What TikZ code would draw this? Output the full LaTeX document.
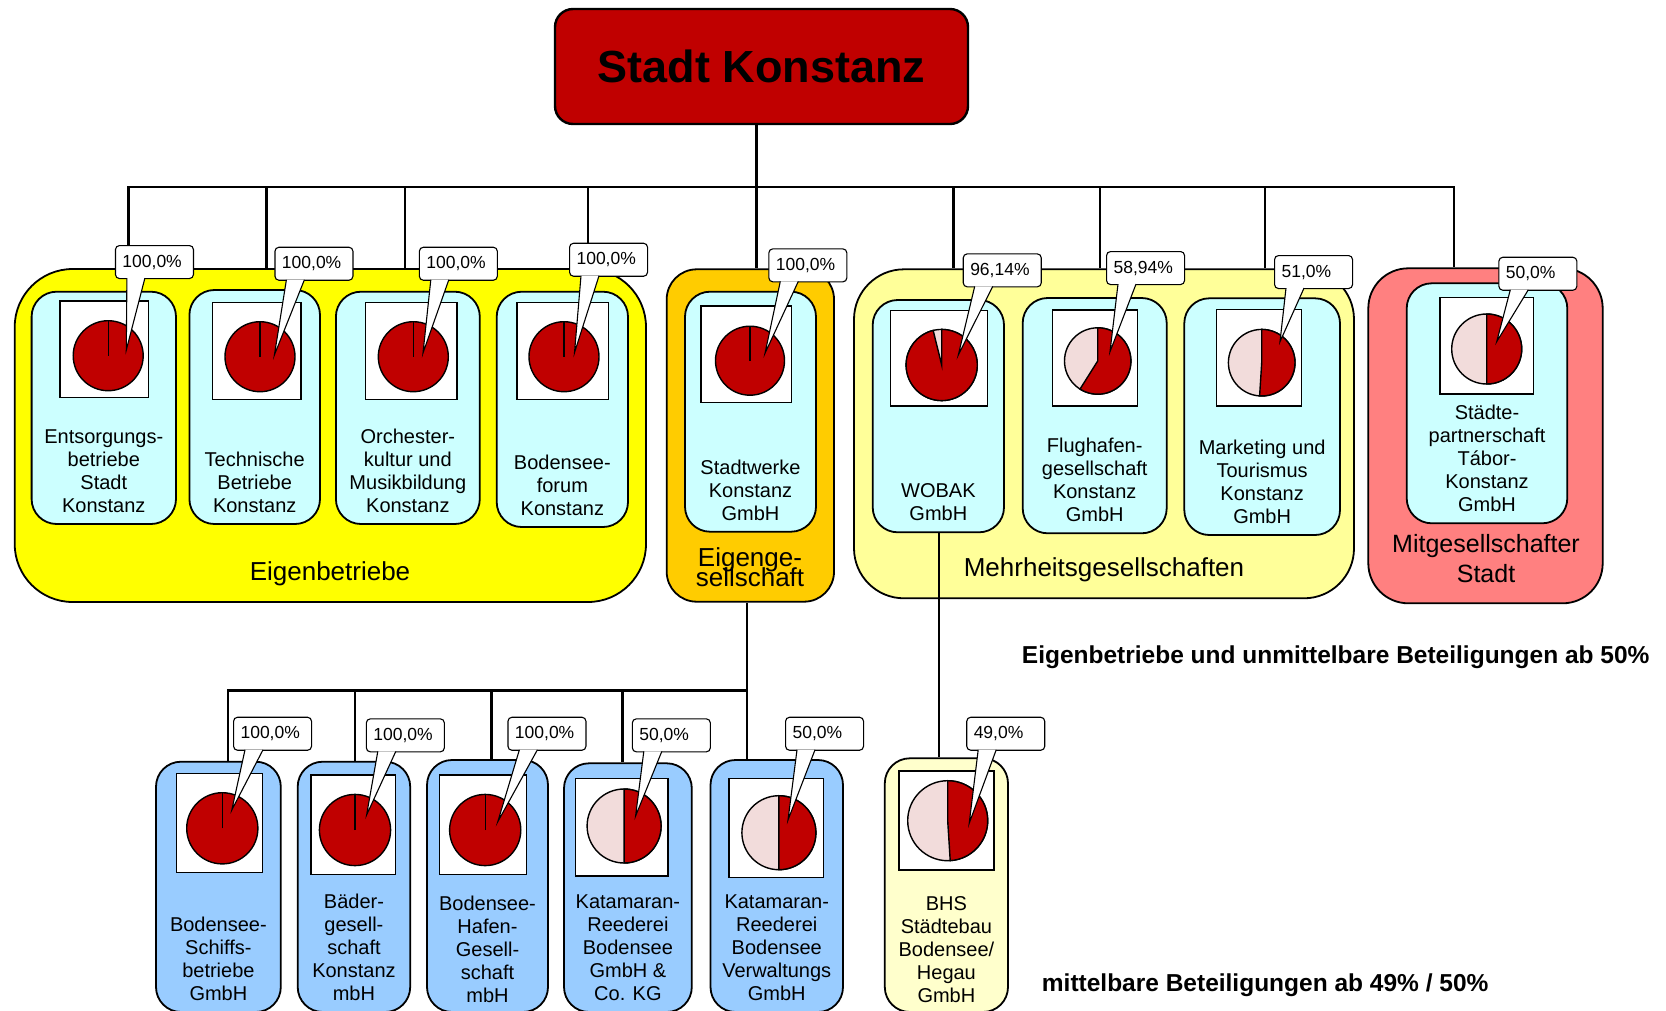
\documentclass[tikz,border=0pt]{standalone}
\usepackage{fontspec}
\setmainfont{Liberation Sans}
\usetikzlibrary{positioning}
\definecolor{piered}{RGB}{192,0,0}
\definecolor{pielight}{RGB}{242,220,219}
\definecolor{ebyellow}{RGB}{255,255,0}
\definecolor{egorange}{RGB}{255,204,0}
\definecolor{mhyellow}{RGB}{255,255,153}
\definecolor{mgred}{RGB}{255,128,128}
\definecolor{cardcyan}{RGB}{204,255,255}
\definecolor{cardblue}{RGB}{153,204,255}
\definecolor{bhsyellow}{RGB}{255,255,204}
\tikzset{
  link/.style={line width=2.6pt},
  holding/.style={draw, line width=1.8pt, inner sep=0pt},
  card/.style={draw, line width=1.8pt, rounded corners=25pt, inner sep=0pt},
  picframe/.style={draw, fill=white, line width=1.4pt},
  pieline/.style={draw, line width=1.4pt},
  share/.style={draw, fill=white, line width=1.1pt, rounded corners=4pt, anchor=north west,
    text width=64pt, align=left, inner xsep=7pt, inner ysep=0pt, minimum height=33pt,
    font=\fontsize{17.5}{20}\selectfont},
  pointer/.style={line width=1.1pt, line join=miter},
  firm/.style={align=center, inner sep=0pt, font=\fontsize{20}{23}\selectfont},
  grouplabel/.style={align=center, inner sep=0pt, font=\fontsize{26}{20}\selectfont},
  remark/.style={anchor=base west, inner sep=0pt, font=\fontsize{24.5}{28}\selectfont\bfseries},
}
\newcommand\sharepointer[2]{%
  \fill[white] ([shift={(12,-1)}]#1.south west) -- #2 -- ([shift={(30,-1)}]#1.south west) -- cycle;
  \draw[pointer] ([shift={(12,-1)}]#1.south west) -- #2 -- ([shift={(30,-1)}]#1.south west);}
\begin{document}
\begin{tikzpicture}[x=1pt,y=-1pt]
\useasboundingbox (0,0) rectangle (1666,1010);
\clip (0,0) rectangle (1666,1010);

\node[draw, fill=piered, rounded corners=18pt, line width=2.4pt, minimum width=413pt, minimum height=115pt,
  font=\fontsize{45}{54}\selectfont\bfseries] (sk) at (761.5,66.5) {Stadt Konstanz};

\node[holding, fill=ebyellow, rounded corners=58pt, minimum width=631.3pt, minimum height=333pt] (eb) at (330.35,435.5) {};
\node[holding, fill=egorange, rounded corners=30pt, minimum width=167.3pt, minimum height=332.4pt] (eg) at (750.35,435.5) {};
\node[holding, fill=mhyellow, rounded corners=50pt, minimum width=500pt, minimum height=329pt] (mh) at (1104,433.8) {};
\node[holding, fill=mgred, rounded corners=40pt, minimum width=234.4pt, minimum height=335pt] (mg) at (1485.5,435.8) {};

\coordinate (j0) at (756.7,187);
\coordinate (j1) at (128.4,187);
\coordinate (j2) at (266.4,187);
\coordinate (j3) at (404.9,187);
\coordinate (j4) at (588,187);
\coordinate (j5) at (953.3,187);
\coordinate (j6) at (1100,187);
\coordinate (j7) at (1265,187);
\coordinate (j8) at (1454,187);
\draw[link] (j1 |- eb.north) -- (j1) -- (j8) -- (j8 |- mg.north);
\draw[link] (sk.south -| j0) -- (j0 |- eg.north);
\draw[link] (j2) -- (j2 |- eb.north);
\draw[link] (j3) -- (j3 |- eb.north);
\draw[link] (j4) -- (j4 |- eb.north);
\draw[link] (j5) -- (j5 |- mh.north);
\draw[link] (j6) -- (j6 |- mh.north);
\draw[link] (j7) -- (j7 |- mh.north);

\node[grouplabel, anchor=base] (ebl) at (330,580) {Eigenbetriebe};
\node[grouplabel, anchor=south] (egl) at (750,586.7) {Eigenge-\\[-5.5pt]sellschaft};
\node[grouplabel, anchor=base] (mhl) at (1104,576) {Mehrheitsgesellschaften};
\node[grouplabel, font=\fontsize{25}{30}\selectfont, anchor=south] (mgl) at (1486,583.3) {Mitgesellschafter\\Stadt};

% Eigenbetriebe
\node[card, fill=cardcyan, minimum width=144.4pt, minimum height=232.3pt] (e1) at (103.8,407.85) {};
\draw[picframe] (59.8,301) rectangle (148.2,397.7);
\coordinate (q1) at (108.2,355.7);
\filldraw[pieline, fill=piered] (q1) circle[radius=35];
\draw[pieline] (q1) -- ++(0,-35);
\node[share] (t1) at (114.9,245) {100,0\%};
\sharepointer{t1}{(126.3,350)}
\node[firm, above=12pt of e1.south] (n1) {Entsorgungs-\\betriebe\\Stadt\\Konstanz};

\node[card, fill=cardcyan, minimum width=130.6pt, minimum height=234pt] (e2) at (254.7,407) {};
\draw[picframe] (212.6,302.7) rectangle (301,399.3);
\coordinate (q2) at (260,356.7);
\filldraw[pieline, fill=piered] (q2) circle[radius=35];
\draw[pieline] (q2) -- ++(0,-35);
\node[share] (t2) at (274.4,246.7) {100,0\%};
\sharepointer{t2}{(274.4,355)}
\node[firm, above=12pt of e2.south] (n2) {Technische\\Betriebe\\Konstanz};

\node[card, fill=cardcyan, minimum width=143.9pt, minimum height=232.3pt] (e3) at (407.85,407.85) {};
\draw[picframe] (365.3,302.7) rectangle (457,399.3);
\coordinate (q3) at (413.3,356.7);
\filldraw[pieline, fill=piered] (q3) circle[radius=35];
\draw[pieline] (q3) -- ++(0,-35);
\node[share] (t3) at (418.8,246.7) {100,0\%};
\sharepointer{t3}{(423,353)}
\node[firm, above=12pt of e3.south] (n3) {Orchester-\\kultur und\\Musikbildung\\Konstanz};

\node[card, fill=cardcyan, minimum width=131.3pt, minimum height=235.3pt] (e4) at (562.35,409.35) {};
\draw[picframe] (516.9,302.7) rectangle (608.6,399.3);
\coordinate (q4) at (564,356.7);
\filldraw[pieline, fill=piered] (q4) circle[radius=35];
\draw[pieline] (q4) -- ++(0,-35);
\node[share] (t4) at (569,242.7) {100,0\%};
\sharepointer{t4}{(574.5,352.7)}
\node[firm, above=12pt of e4.south] (n4) {Bodensee-\\forum\\Konstanz};

% Eigengesellschaft
\node[card, fill=cardcyan, minimum width=131pt, minimum height=240pt] (sw) at (750.5,411.7) {};
\draw[picframe] (701,306) rectangle (791.7,402.7);
\coordinate (qsw) at (750,360.7);
\filldraw[pieline, fill=piered] (qsw) circle[radius=34.5];
\draw[pieline] (qsw) -- ++(0,-34.5);
\node[share] (tsw) at (768.3,248.3) {100,0\%};
\sharepointer{tsw}{(765,353.3)}
\node[firm, above=12pt of sw.south] (nsw) {Stadtwerke\\Konstanz\\GmbH};

% Mehrheitsgesellschaften
\node[card, fill=cardcyan, minimum width=131.3pt, minimum height=232.3pt] (wo) at (938.35,416.15) {};
\draw[picframe] (890.7,310.7) rectangle (987.7,406);
\coordinate (qwo) at (941.7,365);
\filldraw[pieline, fill=pielight] (qwo) circle[radius=35.6];
\filldraw[pieline, fill=piered] (qwo) -- ++(0,-35.6) arc[start angle=-90, end angle=256.1, radius=35.6] -- cycle;
\node[share] (two) at (962.7,253.3) {96,14\%};
\sharepointer{two}{(958.3,355)}
\node[firm, above=12pt of wo.south] (nwo) {WOBAK\\GmbH};

\node[card, fill=cardcyan, minimum width=144pt, minimum height=235.3pt] (fl) at (1094.7,415.65) {};
\draw[picframe] (1052.7,310) rectangle (1137.3,406);
\coordinate (qfl) at (1097.7,361);
\filldraw[pieline, fill=pielight] (qfl) circle[radius=33.2];
\filldraw[pieline, fill=piered] (qfl) -- ++(0,-33.2) arc[start angle=-90, end angle=122.2, radius=33.2] -- cycle;
\node[share] (tfl) at (1106,251) {58,94\%};
\sharepointer{tfl}{(1110,351.7)}
\node[firm, above=12pt of fl.south] (nfl) {Flughafen-\\gesellschaft\\Konstanz\\GmbH};

\node[card, fill=cardcyan, minimum width=155.7pt, minimum height=236.7pt] (mt) at (1262.15,416.65) {};
\draw[picframe] (1216.7,309.3) rectangle (1301.7,406);
\coordinate (qmt) at (1261.7,362.7);
\filldraw[pieline, fill=pielight] (qmt) circle[radius=33.3];
\filldraw[pieline, fill=piered] (qmt) -- ++(0,-33.3) arc[start angle=-90, end angle=93.6, radius=33.3] -- cycle;
\node[share] (tmt) at (1274,255) {51,0\%};
\sharepointer{tmt}{(1280,341.7)}
\node[firm, above=12pt of mt.south] (nmt) {Marketing und\\Tourismus\\Konstanz\\GmbH};

% Mitgesellschafter
\node[card, fill=cardcyan, minimum width=160.6pt, minimum height=240pt] (st) at (1487,403.3) {};
\draw[picframe] (1440,297.7) rectangle (1533.3,394);
\coordinate (qst) at (1486.7,349);
\filldraw[pieline, fill=pielight] (qst) circle[radius=35];
\filldraw[pieline, fill=piered] (qst) -- ++(0,-35) arc[start angle=-90, end angle=90, radius=35] -- cycle;
\node[share] (tst) at (1498.3,256.7) {50,0\%};
\sharepointer{tst}{(1496.7,341.7)}
\node[firm, above=12pt of st.south] (nst) {Städte-\\partnerschaft\\Tábor-\\Konstanz\\GmbH};

% mittelbare Beteiligungen
\node[card, fill=cardblue, minimum width=124.8pt, minimum height=250.3pt] (b1) at (218.4,886.85) {};
\draw[picframe] (176.4,773.3) rectangle (262.5,872.7);
\coordinate (qb1) at (222.3,828.3);
\filldraw[pieline, fill=piered] (qb1) circle[radius=35.6];
\draw[pieline] (qb1) -- ++(0,-35.6);
\node[share] (tb1) at (233,716.7) {100,0\%};
\sharepointer{tb1}{(231.8,810)}
\node[firm, above=12pt of b1.south] (nb1) {Bodensee-\\Schiffs-\\betriebe\\GmbH};

\node[card, fill=cardblue, minimum width=112.5pt, minimum height=250.3pt] (b2) at (353.95,886.85) {};
\draw[picframe] (311,775) rectangle (395.6,874.3);
\coordinate (qb2) at (355,830);
\filldraw[pieline, fill=piered] (qb2) circle[radius=35.6];
\draw[pieline] (qb2) -- ++(0,-35.6);
\node[share] (tb2) at (365.8,718.3) {100,0\%};
\sharepointer{tb2}{(366.6,815)}
\node[firm, above=12pt of b2.south] (nb2) {Bäder-\\gesell-\\schaft\\Konstanz\\mbH};

\node[card, fill=cardblue, minimum width=121pt, minimum height=252pt] (b3) at (487.5,886) {};
\draw[picframe] (439.3,775) rectangle (526.5,874.3);
\coordinate (qb3) at (485.2,830);
\filldraw[pieline, fill=piered] (qb3) circle[radius=35.6];
\draw[pieline] (qb3) -- ++(0,-35.6);
\node[share] (tb3) at (507.4,716.7) {100,0\%};
\sharepointer{tb3}{(497.8,821.7)}
\node[firm, above=10pt of b3.south] (nb3) {Bodensee-\\Hafen-\\Gesell-\\schaft\\mbH};

\node[card, fill=cardblue, minimum width=127.8pt, minimum height=248.7pt] (b4) at (627.9,887.65) {};
\draw[picframe] (575.5,778.3) rectangle (668.1,876);
\coordinate (qb4) at (624.1,826);
\filldraw[pieline, fill=pielight] (qb4) circle[radius=37];
\filldraw[pieline, fill=piered] (qb4) -- ++(0,-37) arc[start angle=-90, end angle=90, radius=37] -- cycle;
\node[share] (tb4) at (631.8,718.3) {50,0\%};
\sharepointer{tb4}{(635.6,816)}
\node[firm, above=12pt of b4.south] (nb4) {Katamaran-\\Reederei\\Bodensee\\GmbH \&\\Co. KG};

\node[card, fill=cardblue, minimum width=132.5pt, minimum height=252pt] (b5) at (776.75,886) {};
\draw[picframe] (729,778.3) rectangle (823.2,877.7);
\coordinate (qb5) at (778.9,832.7);
\filldraw[pieline, fill=pielight] (qb5) circle[radius=37];
\filldraw[pieline, fill=piered] (qb5) -- ++(0,-37) arc[start angle=-90, end angle=90, radius=37] -- cycle;
\node[share] (tb5) at (785,716.7) {50,0\%};
\sharepointer{tb5}{(788,820)}
\node[firm, above=12pt of b5.south] (nb5) {Katamaran-\\Reederei\\Bodensee\\Verwaltungs\\GmbH};

\node[card, fill=bhsyellow, minimum width=123.2pt, minimum height=253.7pt] (bh) at (946.4,885.15) {};
\draw[picframe] (899,771) rectangle (993.9,870);
\coordinate (qbh) at (947.7,820.7);
\filldraw[pieline, fill=pielight] (qbh) circle[radius=40];
\filldraw[pieline, fill=piered] (qbh) -- ++(0,-40) arc[start angle=-90, end angle=86.4, radius=40] -- cycle;
\node[share] (tbh) at (966.2,716.7) {49,0\%};
\sharepointer{tbh}{(969.2,823.3)}
\node[firm, above=10pt of bh.south] (nbh) {BHS\\Städtebau\\Bodensee/\\Hegau\\GmbH};

\coordinate (k1) at (228,690.7);
\coordinate (k2) at (355,690.7);
\coordinate (k3) at (491.3,690.7);
\coordinate (k4) at (622.2,690.7);
\coordinate (k5) at (747,690.7);
\coordinate (w0) at (939,532.3);
\draw[link] (k1 |- b1.north) -- (k1) -- (k5);
\draw[link] (eg.south -| k5) -- (k5 |- b5.north);
\draw[link] (k2) -- (k2 |- b2.north);
\draw[link] (k3) -- (k3 |- b3.north);
\draw[link] (k4) -- (k4 |- b4.north);
\draw[link] (w0) -- (w0 |- bh.north);

\node[remark] (r50) at (1021.7,663) {Eigenbetriebe und unmittelbare Beteiligungen ab 50\%};
\node[remark] (r49) at (1041.7,991.7) {mittelbare Beteiligungen ab 49\% / 50\%};
\end{tikzpicture}
\end{document}
